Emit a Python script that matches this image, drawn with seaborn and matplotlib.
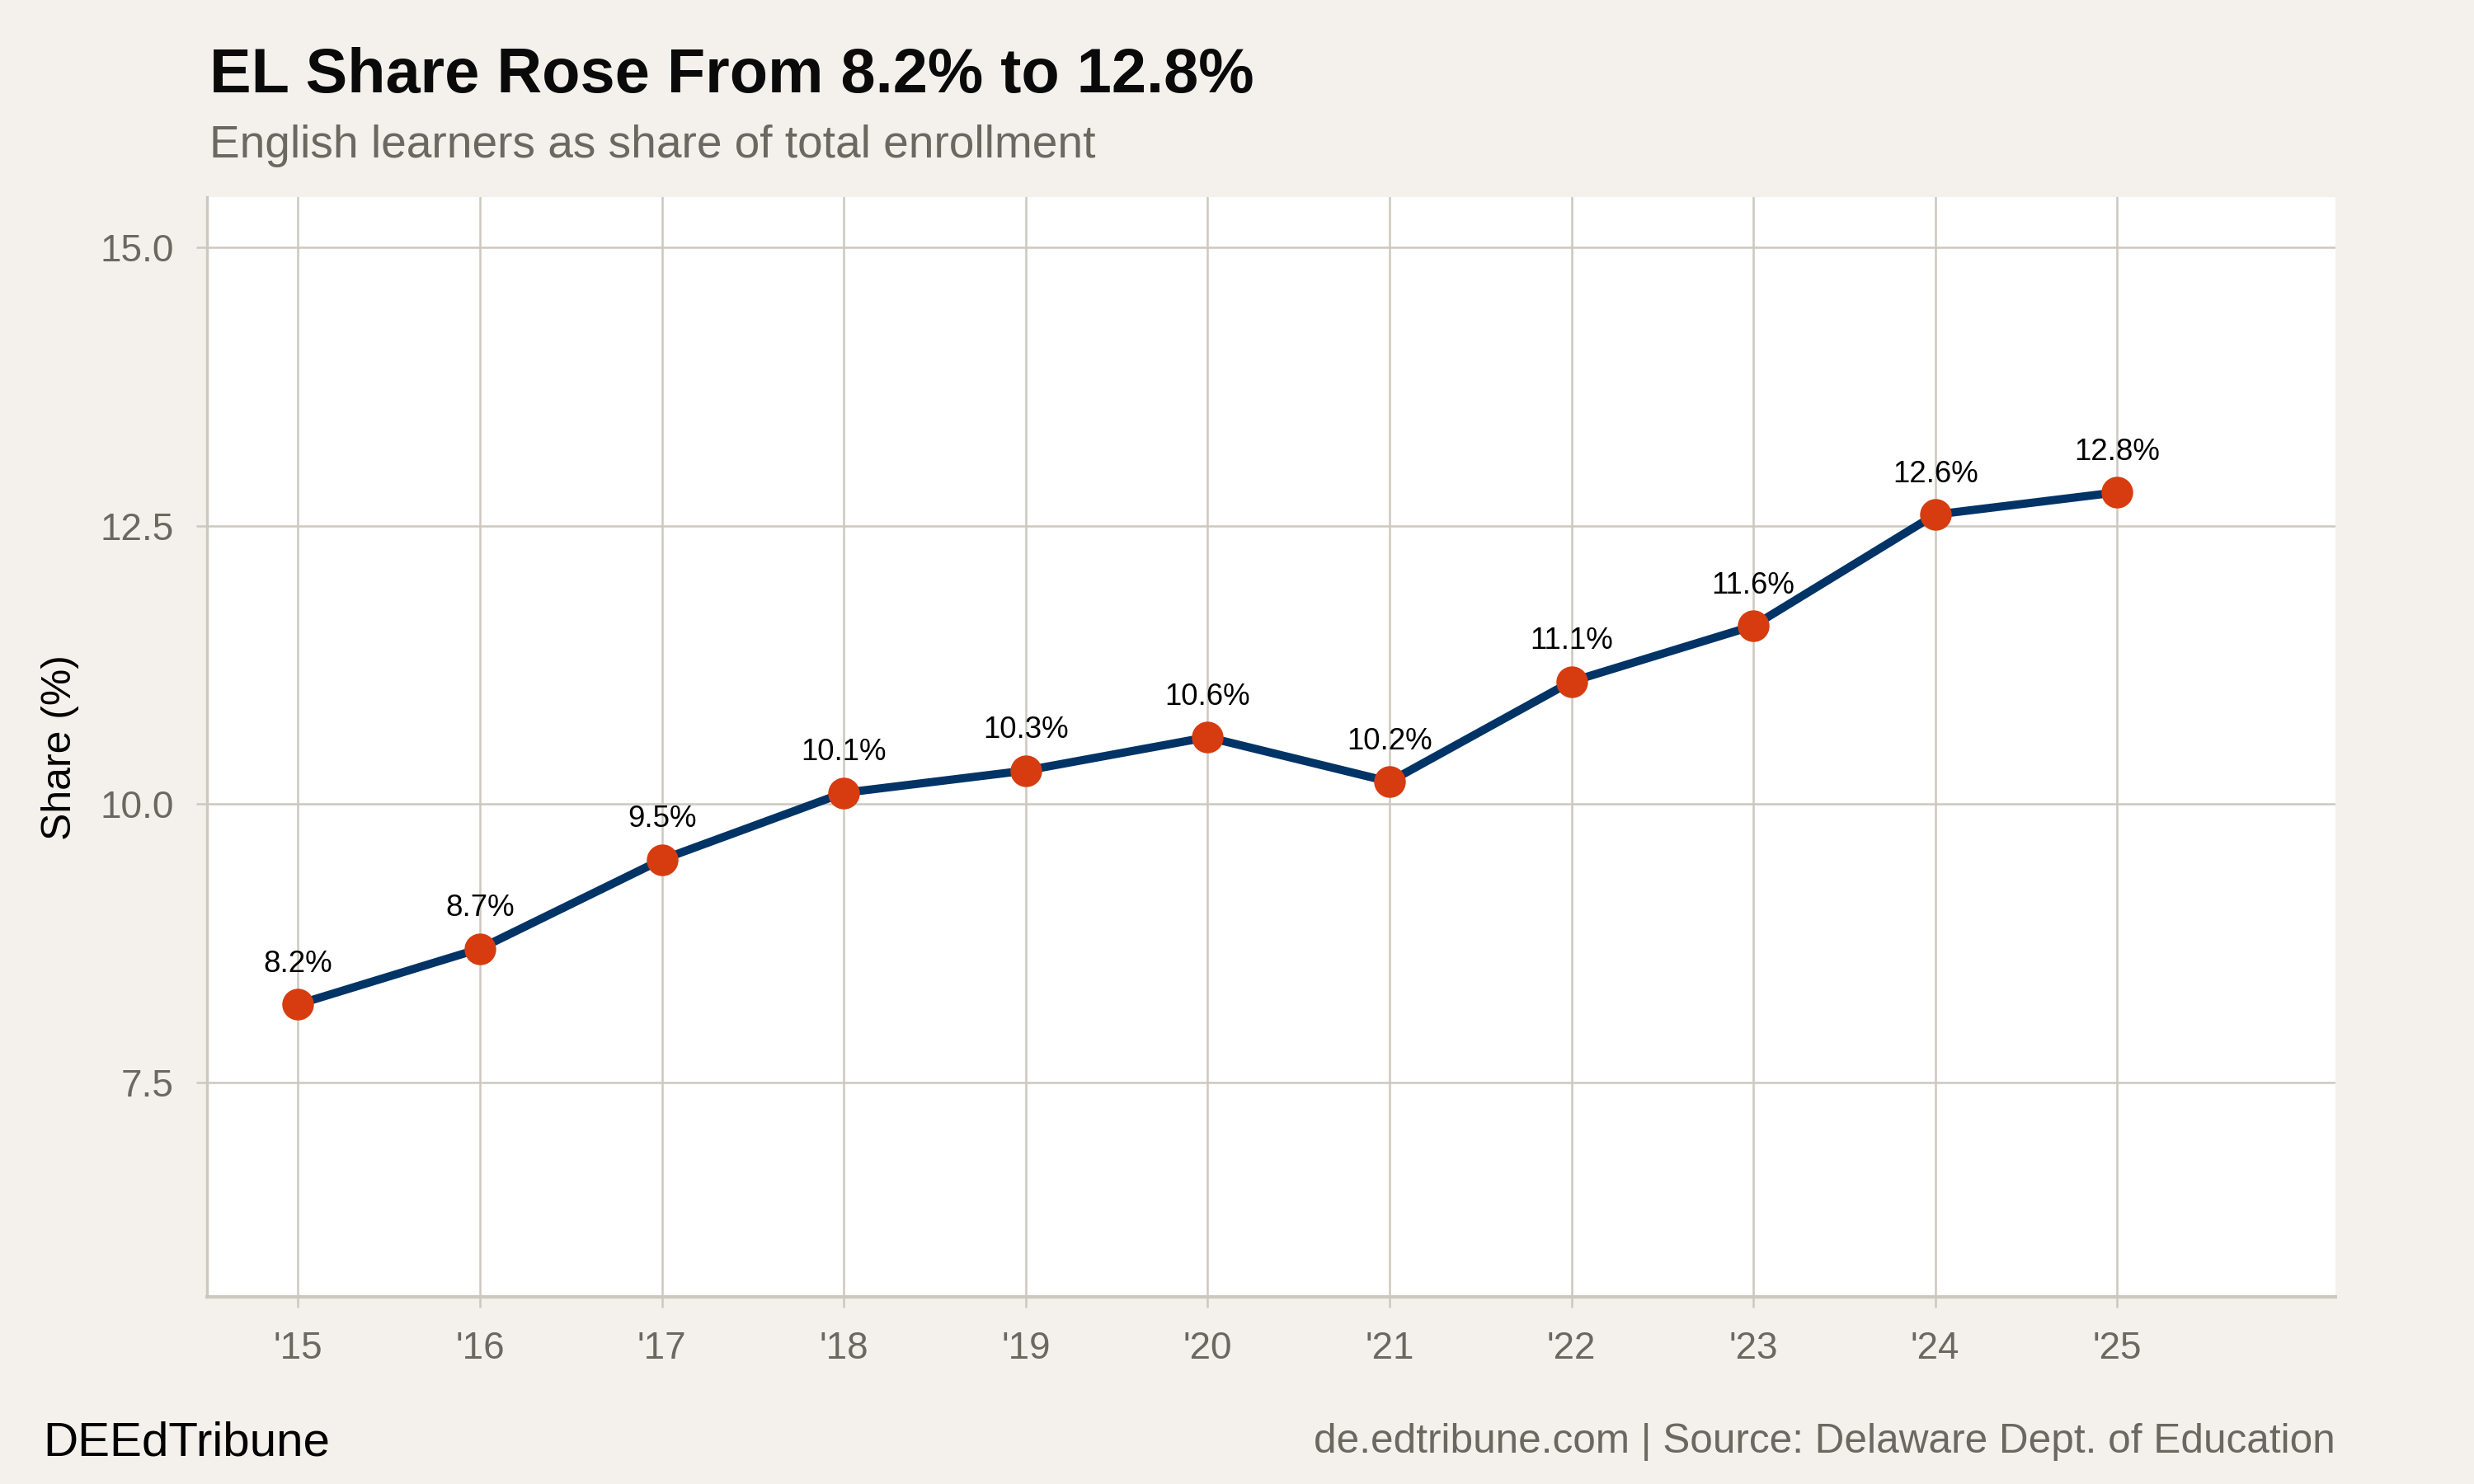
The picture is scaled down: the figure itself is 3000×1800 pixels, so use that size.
import numpy as np
import matplotlib.pyplot as plt
import pandas as pd
import seaborn as sns

# data
years = [2015, 2016, 2017, 2018, 2019, 2020, 2021, 2022, 2023, 2024, 2025]
year_labels = ["'15", "'16", "'17", "'18", "'19", "'20", "'21", "'22", "'23", "'24", "'25"]
share = [8.2, 8.7, 9.5, 10.1, 10.3, 10.6, 10.2, 11.1, 11.6, 12.6, 12.8]
y_ticks = [7.5, 10.0, 12.5, 15.0]

BG = "#f4f1ec"
GRID = "#cdc8bf"
NAVY = "#003366"
ORANGE = "#d63c0f"
GREY_TXT = "#6b6862"


def plot_data():
    df = pd.DataFrame({"year": years, "share": share})

    sns.set_theme(style="whitegrid")
    plt.rcParams["font.family"] = ["Liberation Sans", "DejaVu Sans"]

    fig = plt.figure(figsize=(10, 6), dpi=300, facecolor=BG)
    ax = fig.add_axes([0.0837, 0.126, 0.944 - 0.0837, 0.867 - 0.126])
    ax.set_facecolor("white")

    sns.lineplot(data=df, x="year", y="share", color=NAVY, linewidth=2.4, ax=ax, zorder=3)
    sns.scatterplot(data=df, x="year", y="share", color=ORANGE, s=85, linewidth=0,
                    ax=ax, zorder=4)

    for x, y in zip(years, share):
        ax.annotate(f"{y:.1f}%", (x, y), xytext=(0, 7.5), textcoords="offset points",
                    ha="center", va="bottom", fontsize=8.8, color="black", zorder=5)

    ax.set_xlim(2014.5, 2026.2)
    ax.set_ylim(5.57, 15.45)
    ax.set_xticks(years)
    ax.set_xticklabels(year_labels)
    ax.set_yticks(y_ticks)
    ax.set_yticklabels([f"{t:.1f}" for t in y_ticks])

    ax.grid(True, color=GRID, linewidth=0.6)
    for side in ["top", "right"]:
        ax.spines[side].set_visible(False)
    ax.spines["left"].set_color(GRID)
    ax.spines["left"].set_linewidth(0.8)
    ax.spines["bottom"].set_color(GRID)
    ax.spines["bottom"].set_linewidth(1.0)
    ax.tick_params(axis="both", length=3.2, width=0.6, color=GRID, labelcolor=GREY_TXT,
                   labelsize=11, pad=6.5, left=True, bottom=True)

    ax.set_xlabel("")
    ax.set_ylabel("Share (%)", fontsize=12, color="black", labelpad=6)

    fig.text(0.0847, 0.938, "EL Share Rose From 8.2% to 12.8%", fontsize=18.2,
             fontweight="bold", color="#0a0a0a", ha="left", va="baseline")
    fig.text(0.0847, 0.894, "English learners as share of total enrollment", fontsize=13.2,
             color=GREY_TXT, ha="left", va="baseline")
    fig.text(0.0175, 0.019, "DEEdTribune", fontsize=14, color="black",
             ha="left", va="baseline")
    fig.text(0.944, 0.021, "de.edtribune.com | Source: Delaware Dept. of Education",
             fontsize=11.9, color=GREY_TXT, ha="right", va="baseline")

    fig.savefig("out.png", dpi=300, facecolor=BG)


if __name__ == "__main__":
    plot_data()
